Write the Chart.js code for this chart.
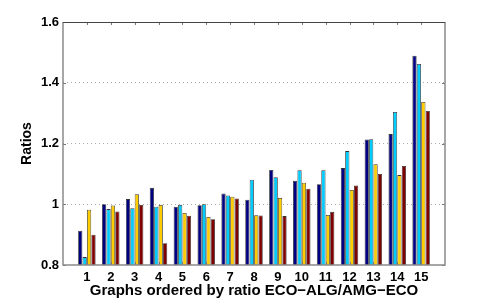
<!DOCTYPE html>
<html><head><meta charset="utf-8">
<script src="https://cdn.jsdelivr.net/npm/chart.js@4.4.1/dist/chart.umd.min.js"></script>
<style>html,body{margin:0;padding:0;background:#fff}</style>
</head><body>
<canvas id="c" width="491" height="300" style="width:491px;height:300px;display:block"></canvas>
<script>
const categories = ['1','2','3','4','5','6','7','8','9','10','11','12','13','14','15'];
const seriesNavy = [0.913,1.000,1.017,1.054,0.992,0.997,1.035,1.015,1.113,1.077,1.066,1.119,1.213,1.231,1.489];
const seriesCyan = [0.826,0.984,0.987,0.992,0.998,1.000,1.029,1.081,1.089,1.112,1.112,1.175,1.214,1.304,1.462];
const seriesGold = [0.982,0.996,1.033,0.998,0.971,0.958,1.025,0.964,1.021,1.071,0.965,1.047,1.132,1.096,1.337];
const seriesRed  = [0.900,0.976,0.998,0.872,0.962,0.951,1.019,0.963,0.961,1.051,0.975,1.062,1.100,1.126,1.307];
const yTicks = [0.8,1.0,1.2,1.4,1.6];
const xTitle = 'Graphs ordered by ratio ECO\u2212ALG/AMG\u2212ECO';
const yTitle = 'Ratios';

const FONT = '"Liberation Sans", Arial, Helvetica, sans-serif';
function ds(vals, color) {
  return {
    data: vals.map((v, i) => ({x: i + 1, y: v})),
    backgroundColor: color,
    borderColor: '#333',
    borderWidth: 0.8,
    categoryPercentage: 0.74,
    barPercentage: 0.96
  };
}

const boxPlugin = {
  id: 'box',
  afterDraw(chart) {
    const {ctx, chartArea: a, scales} = chart;
    const xs = scales.x, ys = scales.y;
    ctx.save();
    ctx.strokeStyle = '#777';
    ctx.lineWidth = 1;
    ctx.beginPath();
    categories.forEach((c, i) => {
      const px = Math.round(xs.getPixelForValue(i + 1)) + 0.5;
      ctx.moveTo(px, a.top); ctx.lineTo(px, a.top + 3);
      ctx.moveTo(px, a.bottom); ctx.lineTo(px, a.bottom - 3);
    });
    yTicks.forEach(v => {
      const py = Math.round(ys.getPixelForValue(v)) + 0.5;
      ctx.moveTo(a.left, py); ctx.lineTo(a.left + 3, py);
      ctx.moveTo(a.right, py); ctx.lineTo(a.right - 3, py);
    });
    ctx.stroke();
    ctx.lineWidth = 1.5;
    ctx.strokeStyle = '#8a8a8a';
    ctx.beginPath();
    ctx.moveTo(a.left, a.top); ctx.lineTo(a.left, a.bottom); ctx.lineTo(a.right, a.bottom); ctx.lineTo(a.right, a.top);
    ctx.stroke();
    ctx.lineWidth = 1;
    ctx.strokeStyle = '#444';
    ctx.beginPath();
    ctx.moveTo(a.left, a.top + 0.5); ctx.lineTo(a.right, a.top + 0.5);
    ctx.stroke();
    ctx.restore();
  }
};

new Chart(document.getElementById('c'), {
  type: 'bar',
  data: {
    datasets: [ds(seriesNavy, '#000080'), ds(seriesCyan, '#00CCFF'), ds(seriesGold, '#FFCC00'), ds(seriesRed, '#800000')]
  },
  options: {
    responsive: false,
    animation: false,
    layout: {padding: {left: 0, right: 46, top: 22, bottom: 0}},
    plugins: {legend: {display: false}, tooltip: {enabled: false}},
    scales: {
      x: {
        type: 'linear', min: 0, max: 16, offset: false,
        afterFit(s) { s.height = 35; },
        afterBuildTicks(s) { s.ticks = categories.map((c, i) => ({value: i + 1})); },
        ticks: {
          autoSkip: false, maxRotation: 0, padding: 4.5,
          color: '#000',
          font: {family: FONT, size: 13, weight: 'bold'},
          callback: (v) => categories[v - 1] || ''
        },
        grid: {display: false, drawTicks: false},
        border: {display: false},
        title: {display: true, text: xTitle, color: '#000', font: {family: FONT, size: 15, weight: 'bold'}, padding: {top: 0, bottom: 0.5}}
      },
      y: {
        min: 0.8, max: 1.6,
        afterFit(s) { s.width = 63; },
        afterBuildTicks(s) { s.ticks = yTicks.map(v => ({value: v})); },
        ticks: {
          padding: 4, color: '#000',
          font: {family: FONT, size: 13, weight: 'bold'},
          callback: (v) => String(Number(v.toFixed(1)))
        },
        grid: {
          drawTicks: false,
          color: (c) => (c.tick && (c.tick.value > 0.85 && c.tick.value < 1.55)) ? '#aaaaaa' : 'rgba(0,0,0,0)',
          lineWidth: 1
        },
        border: {display: false, dash: [1, 3]},
        title: {display: true, text: yTitle, color: '#000', font: {family: FONT, size: 14, weight: 'bold'}, padding: {top: 19, bottom: 0}}
      }
    }
  },
  plugins: [boxPlugin]
});
</script>
</body></html>
